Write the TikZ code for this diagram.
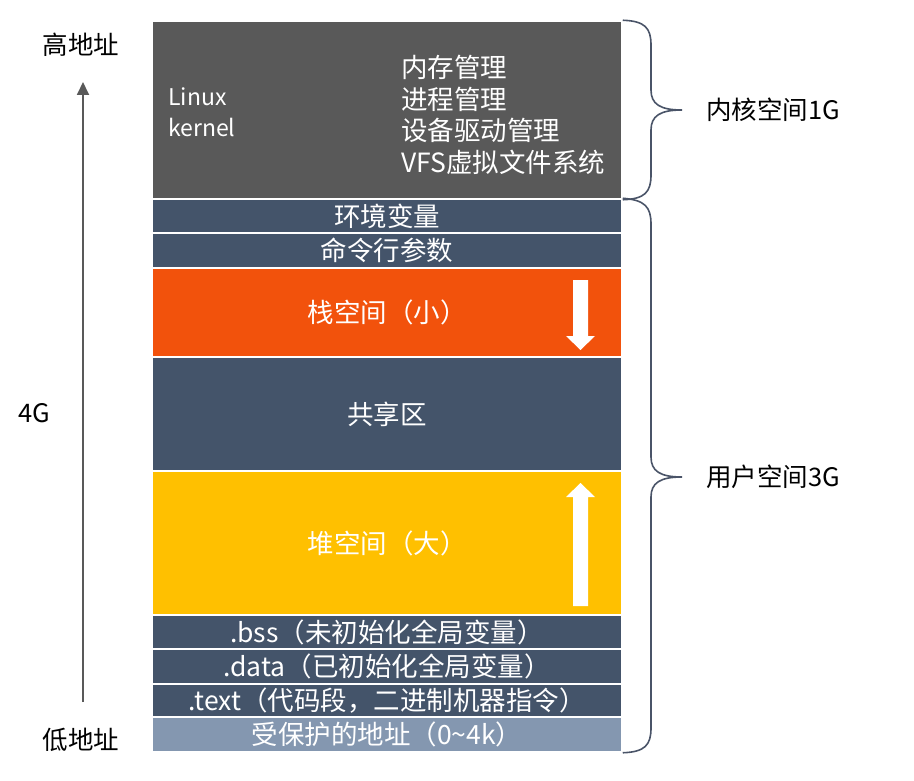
\documentclass[tikz,border=0pt]{standalone}
\usepackage{fontspec}
\setmainfont{Noto Sans CJK SC}
\usetikzlibrary{arrows.meta}

\definecolor{kernelgray}{HTML}{595959}
\definecolor{slate}{HTML}{44546A}
\definecolor{stackorange}{RGB}{242,82,12}
\definecolor{heapyellow}{HTML}{FFC000}
\definecolor{guardblue}{HTML}{8497B0}
\definecolor{bracegray}{HTML}{4A5468}

\begin{document}
\begin{tikzpicture}[x=1pt,y=-1pt,
    seg/.style={draw=white,line width=1.5pt,fill=#1,minimum width=470pt,inner sep=0pt,
        text=white,font=\fontsize{26.5}{31.5}\selectfont},
    side/.style={font=\fontsize{25.5}{30}\selectfont},
    bracket/.style={draw=bracegray,line width=1.6pt},
    axis/.style={draw=kernelgray,line width=1.8pt,-{Triangle[length=13pt,width=12pt]}}]
            \useasboundingbox (0,0) rectangle (914,781);

            \node[seg=kernelgray,minimum height=178pt] (kernel) at (387,110) {};
            \node[seg=slate,minimum height=34pt] (env) at (387,216) {环境变量};
            \node[seg=slate,minimum height=35pt] (args) at (387,250.5) {命令行参数};
            \node[seg=stackorange,minimum height=89pt] (stack) at (387,312.5) {栈空间（小）};
            \node[seg=slate,minimum height=114pt] (shared) at (387,414) {共享区};
            \node[seg=heapyellow,minimum height=144pt] (heap) at (387,543) {堆空间（大）};
            \node[seg=slate,minimum height=34pt] (bss) at (387,632) {.bss（未初始化全局变量）};
            \node[seg=slate,minimum height=35pt] (data) at (387,666.5) {.data（已初始化全局变量）};
            \node[seg=slate,minimum height=33pt] (text) at (387,700.5) {.text（代码段，二进制机器指令）};
            \node[seg=guardblue,minimum height=35pt] (guard) at (387,734.5) {受保护的地址（0\textasciitilde4k）};

            \node[text=white,anchor=west,align=left,inner sep=0pt,
                font=\fontsize{23}{31}\selectfont] (kname) at (168,112) {Linux\\kernel};
            \node[text=white,anchor=west,align=left,inner sep=0pt,
                font=\fontsize{26.5}{31.5}\selectfont] (kjobs) at (401,115) {内存管理\\进程管理\\设备驱动管理\\VFS虚拟文件系统};

            \fill[white] (573,280) -- (588,280) -- (588,336) -- (595,336) -- (580.5,350) -- (566,336) -- (573,336) -- cycle;
            \fill[white] (573,606) -- (588,606) -- (588,497) -- (595,497) -- (580.5,483) -- (566,497) -- (573,497) -- cycle;

            \node[side] (high) at (81,45) {高地址};
            \node[side] (low) at (81,740) {低地址};
            \node[side] (size) at (34,413) {4G};
            \coordinate (axisbot) at (83,702);
            \coordinate (axistop) at (83,82);
            \draw[axis] (axisbot) to (axistop);

            \draw[bracket] (kernel.north east) .. controls (645,21) and (651,28) .. (651,45) -- (651,90)
                .. controls (651,104) and (660,110) .. (682,110)
                .. controls (660,110) and (651,116) .. (651,130) -- (651,175)
                .. controls (651,192) and (645,199) .. (kernel.south east);
            \draw[bracket] (env.north east) .. controls (645,200) and (651,207) .. (651,224) -- (651,457)
                .. controls (651,471) and (660,477) .. (682,477)
                .. controls (660,477) and (651,483) .. (651,497) -- (651,728)
                .. controls (651,745) and (645,752) .. (guard.south east);

            \node[side] (kspace) at (773,110) {内核空间1G};
            \node[side] (uspace) at (773,477) {用户空间3G};
        \end{tikzpicture}
\end{document}
